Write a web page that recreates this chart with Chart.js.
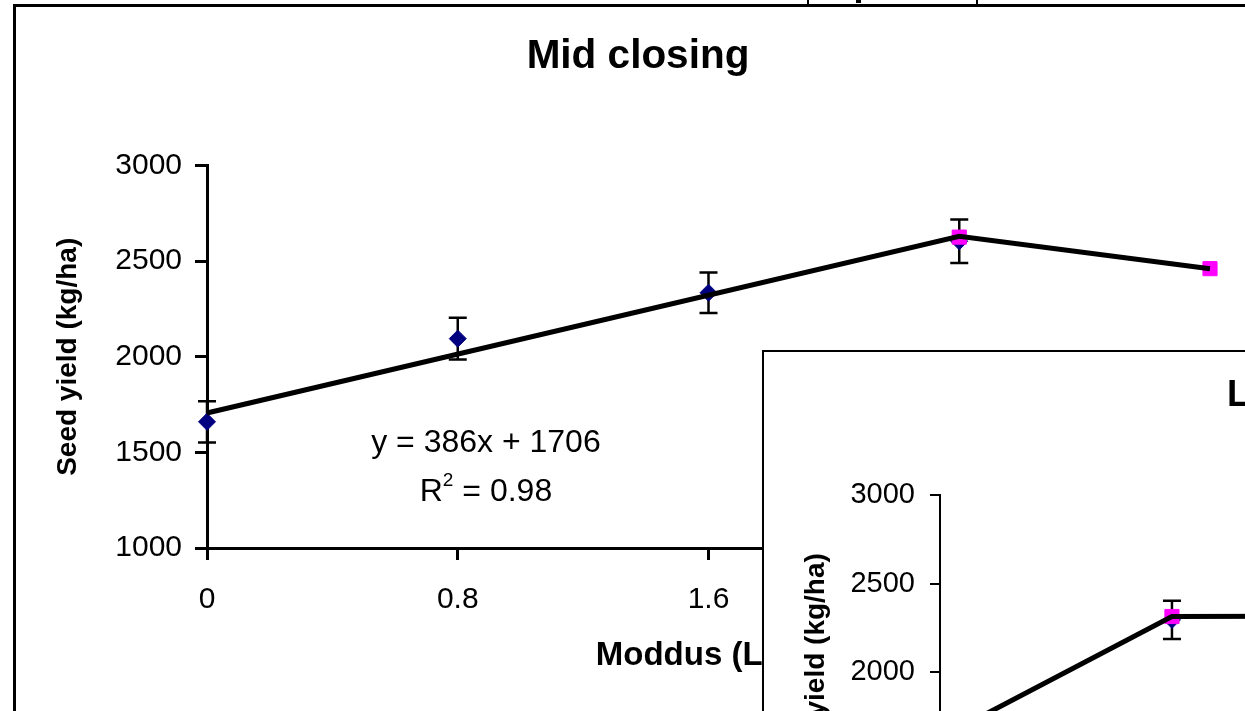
<!DOCTYPE html>
<html>
<head>
<meta charset="utf-8">
<script src="https://cdn.jsdelivr.net/npm/chart.js@4.4.1/dist/chart.umd.min.js"></script>
<style>
  html, body { margin: 0; padding: 0; background: #fff; overflow: hidden; }
  #stage { position: relative; width: 1245px; height: 711px; overflow: hidden; background: #fff; }
  .frame { position: absolute; background: #fff; border-style: solid; border-color: #000; }
  #mid { left: 13px; top: 4px; width: 1300px; height: 760px; border-width: 3px 0 0 3px; }
  #late { left: 762px; top: 350px; width: 1200px; height: 700px; border-width: 2px 0 0 2px; }
  .frame canvas { position: absolute; left: 0; top: 0; }
  .stub { position: absolute; top: 0; width: 2px; height: 5px; background: #000; }
</style>
</head>
<body>
<div id="stage">
  <div class="stub" style="left:807px"></div>
  <div class="stub" style="left:976px"></div>
  <div class="stub" style="left:856px;width:5px;height:3px"></div>
  <div class="frame" id="mid"><canvas id="midChart" width="1244" height="704"></canvas></div>
  <div class="frame" id="late"><canvas id="lateChart" width="1142" height="650"></canvas></div>
</div>
<script>
// axis ticks
const xTicks = [0, 0.8, 1.6, 2.4, 3.2];
const yTicks = [1000, 1500, 2000, 2500, 3000];

// Mid closing
const midX = [0, 0.8, 1.6, 2.4];
const midYield = [1660, 2095, 2335, 2604];
const midErr = [108, 109, 106, 114];
const midPinkX = [2.4, 3.2];
const midPinkY = [2626, 2461];
const midLineX = [0, 2.4, 3.2];
const midLineY = [1706, 2630, 2461];

// Late closing (only the part that shows)
const lateX = [0.8];
const lateYield = [2296];
const lateErr = [108];
const latePinkX = [0.8];
const latePinkY = [2315];
const lateLineX = [0, 0.8, 1.6];
const lateLineY = [1628, 2315, 2318];

const FONT = 'Arial, "Liberation Sans", sans-serif';

function pts(xs, ys) {
  return xs.map((x, i) => ({ x: x, y: ys[i] }));
}

// error bars under the markers
const errorBars = {
  id: 'errorBars',
  beforeDatasetsDraw(chart, args, opts) {
    const { ctx, scales: { x, y } } = chart;
    ctx.save();
    ctx.strokeStyle = '#000';
    ctx.lineWidth = opts.width;
    chart.data.datasets.forEach(ds => {
      if (!ds.errors) return;
      ds.data.forEach((p, i) => {
        const px = x.getPixelForValue(p.x);
        const top = y.getPixelForValue(p.y + ds.errors[i]);
        const bot = y.getPixelForValue(p.y - ds.errors[i]);
        ctx.beginPath();
        ctx.moveTo(px, top); ctx.lineTo(px, bot);
        ctx.moveTo(px - opts.cap, top); ctx.lineTo(px + opts.cap, top);
        ctx.moveTo(px - opts.cap, bot); ctx.lineTo(px + opts.cap, bot);
        ctx.stroke();
      });
    });
    ctx.restore();
  }
};

// trendline equation, R squared with a raised small 2
const eqLabel = {
  id: 'eqLabel',
  afterDatasetsDraw(chart, args, opts) {
    if (!opts.eq) return;
    const { ctx, scales: { x, y } } = chart;
    const cx = x.getPixelForValue(opts.x);
    const cy = y.getPixelForValue(opts.y);
    const big = opts.size + 'px ' + FONT;
    const small = Math.round(opts.size * 0.58) + 'px ' + FONT;
    ctx.save();
    ctx.fillStyle = '#000';
    ctx.textBaseline = 'middle';
    ctx.font = big;
    ctx.textAlign = 'center';
    ctx.fillText(opts.eq, cx, cy);
    // second line: R, superscript 2, rest
    ctx.textAlign = 'left';
    const wR = ctx.measureText('R').width;
    const wRest = ctx.measureText(' = ' + opts.r2).width;
    ctx.font = small;
    const w2 = ctx.measureText('2').width;
    let lx = cx - (wR + w2 + wRest) / 2;
    const ly = cy + opts.gap;
    ctx.font = big;
    ctx.fillText('R', lx, ly);
    ctx.font = small;
    ctx.fillText('2', lx + wR, ly - opts.size * 0.36);
    ctx.font = big;
    ctx.fillText(' = ' + opts.r2, lx + wR + w2, ly);
    ctx.restore();
  }
};

function yieldChart(el, c) {
  return new Chart(el, {
    type: 'scatter',
    data: {
      datasets: [
        { label: 'line', data: c.line, showLine: true, borderColor: '#000', borderWidth: 5,
          pointRadius: 0, order: 0, clip: false },
        { label: 'closed', data: c.pink, pointStyle: 'rect', pointRadius: 10,
          backgroundColor: '#ff00ff', borderColor: '#ff00ff', borderWidth: 1, order: 1, clip: false },
        { label: 'mean', data: c.mean, errors: c.err, pointStyle: 'rectRot', pointRadius: 8.5,
          backgroundColor: '#000080', borderColor: '#000080', borderWidth: 1, order: 2, clip: false }
      ]
    },
    options: {
      responsive: false,
      animation: false,
      layout: { padding: { left: c.padL, right: c.padR, top: 0, bottom: 0 } },
      plugins: {
        legend: { display: false },
        tooltip: { enabled: false },
        title: {
          display: true, text: c.title, color: '#000',
          font: { family: FONT, size: c.titleSize, weight: 'bold' },
          padding: { top: c.titleTop, bottom: c.titleBottom }
        },
        errorBars: { width: 2.5, cap: 9 },
        eqLabel: c.eq || {}
      },
      scales: {
        x: {
          type: 'linear', min: 0, max: 3.2,
          afterBuildTicks: s => { s.ticks = xTicks.map(v => ({ value: v })); },
          afterFit: s => { s.height = c.xH; },
          ticks: { color: '#000', font: { family: FONT, size: c.tick }, padding: c.xPad,
                   maxRotation: 0, autoSkip: false, callback: v => String(v) },
          grid: { drawOnChartArea: false, tickLength: c.tl, color: '#000', lineWidth: c.axisW },
          border: { color: '#000', width: c.axisW },
          title: { display: true, text: 'Moddus (L/ha)', color: '#000',
                   font: { family: FONT, size: c.xTitle, weight: 'bold' },
                   padding: { top: 0, bottom: c.xTitlePad } }
        },
        y: {
          type: 'linear', min: 1000, max: 3000,
          afterBuildTicks: s => { s.ticks = yTicks.map(v => ({ value: v })); },
          afterFit: s => { s.width = c.yW; },
          ticks: { color: '#000', font: { family: FONT, size: c.tick }, padding: c.yPad,
                   callback: v => String(v) },
          grid: { drawOnChartArea: false, tickLength: c.tl, color: '#000', lineWidth: c.axisW },
          border: { color: '#000', width: c.axisW },
          title: { display: true, text: 'Seed yield (kg/ha)', color: '#000',
                   font: { family: FONT, size: c.yTitle, weight: 'bold' },
                   padding: { top: c.yTitlePad, bottom: 0 } }
        }
      }
    },
    plugins: [errorBars, eqLabel]
  });
}

yieldChart(document.getElementById('midChart'), {
  title: 'Mid closing', titleSize: 40.5, titleTop: 26, titleBottom: 84,
  line: pts(midLineX, midLineY), pink: pts(midPinkX, midPinkY),
  mean: pts(midX, midYield), err: midErr,
  padL: 50, padR: 50, yW: 141, xH: 163, tick: 30, xTitle: 33, yTitle: 28, tl: 12, axisW: 3,
  xPad: 22, yPad: 13, xTitlePad: 35, yTitlePad: -14.8,
  eq: { x: 0.89, y: 1546, size: 32, gap: 49, eq: 'y = 386x + 1706', r2: '0.98' }
});

yieldChart(document.getElementById('lateChart'), {
  title: 'Late closing', titleSize: 37, titleTop: 22, titleBottom: 77,
  line: pts(lateLineX, lateLineY), pink: pts(latePinkX, latePinkY),
  mean: pts(lateX, lateYield), err: lateErr,
  padL: 18, padR: 18, yW: 158, xH: 153, tick: 29, xTitle: 28, yTitle: 28, tl: 10, axisW: 2,
  xPad: 18, yPad: 15, xTitlePad: 30, yTitlePad: 17
});
</script>
</body>
</html>
